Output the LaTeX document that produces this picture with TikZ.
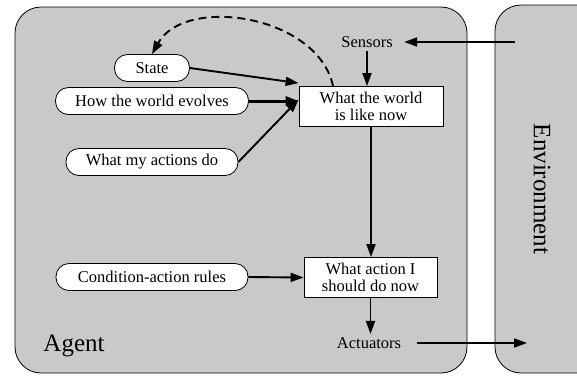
\documentclass[tikz,border=0pt]{standalone}
\usepackage{fontspec}
\setmainfont{Liberation Serif}
\usetikzlibrary{arrows.meta}
\definecolor{panel}{RGB}{200,201,203}
\begin{document}
\begin{tikzpicture}[x=1pt,y=-1pt,
  txt/.style={font=\fontsize{16.5}{17}\selectfont},
  pill/.style={txt,draw=black,fill=white,line width=0.8pt,rounded corners=13pt,
    minimum height=27pt,inner sep=0pt},
  procbox/.style={txt,draw=black,fill=white,line width=0.8pt,align=center,
    minimum height=40pt,inner sep=0pt},
  flow/.style={line width=1.9pt,-{Triangle[length=13pt,width=9pt]}},
]
\useasboundingbox (0,0) rectangle (577,375);
% agent and environment panels
\draw[fill=panel,line width=0.8pt,rounded corners=26pt] (15,7) rectangle (467,373);
\begin{scope}
  \clip (0,0) rectangle (577,375);
  \draw[fill=panel,line width=0.8pt,rounded corners=26pt] (495,5) rectangle (620,373);
\end{scope}
\node[font=\fontsize{25}{28}\selectfont] (agent) at (74,346) {Agent};
\node[font=\fontsize{25}{28}\selectfont,rotate=-90] (env) at (542,189) {Environment};
\coordinate (envin) at (515,42);
\coordinate (envout) at (527,343);

% model components
\node[pill,minimum width=75pt] (state) at (152,68) {State};
\node[pill,minimum width=193pt] (evolve) at (152,101) {How the world evolves};
\node[pill,minimum width=172pt] (acts) at (152,162) {What my actions do};
\node[pill,minimum width=192pt] (rules) at (152,277) {Condition-action rules};

% decision boxes
\node[procbox,minimum width=144pt] (world) at (371,106.5) {What the world\\is like now};
\node[procbox,minimum width=133pt] (action) at (370.5,277.5) {What action I\\should do now};

\node[txt] (sensors) at (367,42) {Sensors};
\node[txt] (actuators) at (369,343) {Actuators};

% connections
\draw[flow,shorten >=8pt] (envin) -- (sensors.east);
\draw[flow] (sensors) -- (world.north -| sensors);
\draw[line width=1.9pt,dash pattern=on 8pt off 5pt,-{Triangle[length=13pt,width=9pt]}]
  ([xshift=-38pt]world.north) .. controls (318,15) and (185,-5) .. (state.north);
\draw[flow] (state.east) -- ([yshift=3pt]world.north west);
\draw[flow,line width=3pt] (evolve.east) -- (world.west |- evolve.east);
\draw[flow] (acts.east) -- ([yshift=7pt]world.west);
\draw[flow] (world.south) -- (action.north -| world.south);
\draw[flow] (rules.east) -- (action.west);
\draw[flow] (action.south) -- (actuators.north -| action.south);
\draw[flow,shorten <=12pt] (actuators.east) -- (envout);
\end{tikzpicture}
\end{document}
